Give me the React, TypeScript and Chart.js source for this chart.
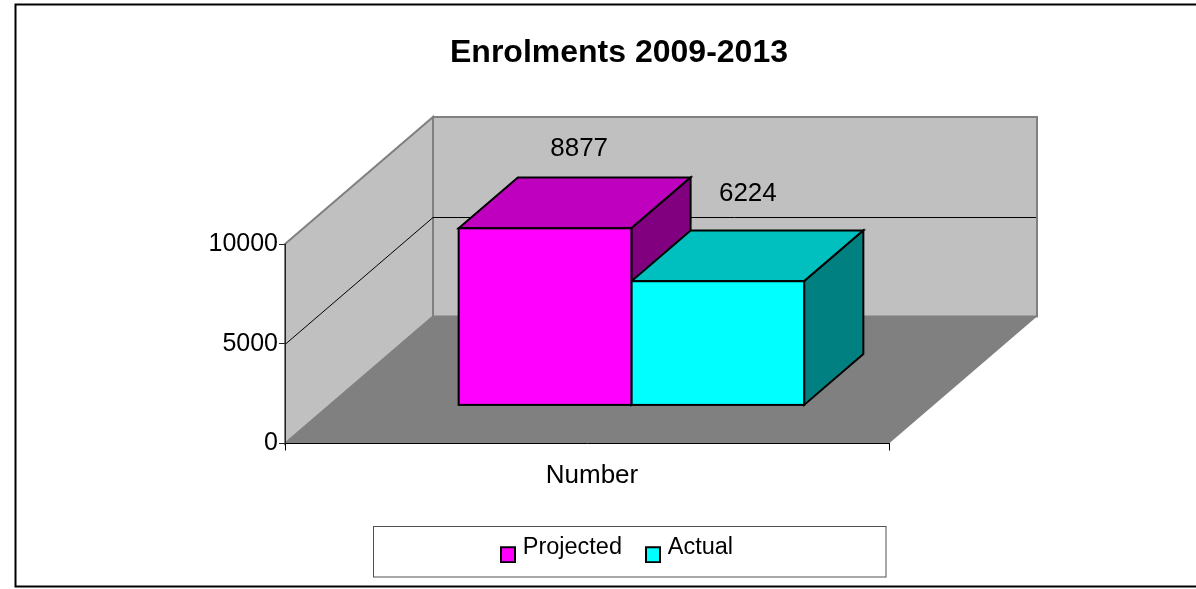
import React, { useEffect, useRef } from "react";
import { Chart, registerables } from "chart.js";

Chart.register(...registerables);

const titleText = "Enrolments 2009-2013";
const categories = ["Number"];
const projected = [8877];
const actual = [6224];
const seriesNames = ["Projected", "Actual"];
const yMax = 10000;
const yStep = 5000;

const FONT = "'Liberation Sans', Arial, sans-serif";
const WALL = "#C0C0C0";
const FLOOR = "#808080";
const EDGE = 2; // outline width of the boxes
const DEPTH = { dx: 148, dy: -127 };
const BAR_FRONT = 0.3; // share of the depth in front of the bars
const BAR_DEPTH = 0.4; // share of the depth the bars occupy

function poly(ctx: CanvasRenderingContext2D, pts: number[][], fill?: string, stroke?: string, lw = 1) {
  ctx.beginPath();
  pts.forEach(([x, y], i) => (i ? ctx.lineTo(x, y) : ctx.moveTo(x, y)));
  ctx.closePath();
  if (fill) {
    ctx.fillStyle = fill;
    ctx.fill();
  }
  if (stroke) {
    ctx.strokeStyle = stroke;
    ctx.lineWidth = lw;
    ctx.lineJoin = "miter";
    ctx.stroke();
  }
}

// Legend swatch sitting a little below the middle of its label
function swatch(color: string) {
  const c = document.createElement("canvas");
  c.width = 16;
  c.height = 32;
  const g = c.getContext("2d")!;
  g.fillStyle = color;
  g.fillRect(1, 16, 14, 15);
  g.strokeStyle = "#000";
  g.lineWidth = EDGE;
  g.strokeRect(1, 16, 14, 15);
  return c;
}

const box3d = {
  id: "box3d",
  beforeDraw(chart: any) {
    const { ctx, chartArea: a } = chart;
    const y = chart.scales.y;
    const { dx, dy } = DEPTH;
    const [l, r, t, b] = [a.left, a.right, y.getPixelForValue(yMax), y.getPixelForValue(0)];
    ctx.save();
    // outer frame, open on the right
    ctx.beginPath();
    ctx.moveTo(1200, 4.5);
    ctx.lineTo(15.5, 4.5);
    ctx.lineTo(15.5, 586.5);
    ctx.lineTo(1200, 586.5);
    ctx.strokeStyle = "#000";
    ctx.lineWidth = 2;
    ctx.stroke();
    // back wall, side wall, floor
    poly(ctx, [[l + dx, t + dy], [r + dx, t + dy], [r + dx, b + dy], [l + dx, b + dy]], WALL, "#808080", 2);
    poly(ctx, [[l, t], [l + dx, t + dy], [l + dx, b + dy], [l, b]], WALL, "#808080", 2);
    poly(ctx, [[l, b], [r, b], [r + dx, b + dy], [l + dx, b + dy]], FLOOR);
    // gridlines folded over both walls
    ctx.strokeStyle = "#000";
    ctx.lineWidth = 1;
    for (const tick of y.ticks) {
      if (tick.value === 0 || tick.value === yMax) continue;
      const py = Math.round(y.getPixelForValue(tick.value)) + 0.5;
      ctx.beginPath();
      ctx.moveTo(l, py);
      ctx.lineTo(l + dx, py + dy);
      ctx.lineTo(r + dx - 1, py + dy);
      ctx.stroke();
    }
    // legend frame
    ctx.strokeStyle = "#505050";
    ctx.lineWidth = 1;
    ctx.strokeRect(373.5, 526.5, 512.5, 50.5);
    ctx.restore();
  },
  afterLayout(chart: any) {
    // centre the title and the legend on their own lines, legend inside its frame
    const centre = (block: any, cx: number) => {
      const half = block.width / 2;
      block.left = cx - half;
      block.right = cx + half;
    };
    centre(chart.titleBlock, 619);
    centre(chart.legend, 619);
    chart.legend.top -= 20;
    chart.legend.bottom -= 20;
  },
  beforeDatasetsDraw(chart: any) {
    // top and side faces go back to front, left box first, so the right box overlaps it
    const { ctx } = chart;
    const fx = DEPTH.dx * BAR_FRONT;
    const fy = DEPTH.dy * BAR_FRONT;
    const bx = DEPTH.dx * BAR_DEPTH;
    const by = DEPTH.dy * BAR_DEPTH;
    ctx.save();
    ctx.translate(fx, fy);
    for (const meta of chart.getSortedVisibleDatasetMetas()) {
      const ds = chart.data.datasets[meta.index];
      for (const el of meta.data) {
        const L = el.x - el.width / 2;
        const R = el.x + el.width / 2;
        const T = el.y;
        const B = el.base;
        poly(ctx, [[L, T], [R, T], [R + bx, T + by], [L + bx, T + by]], ds.topColor, "#000", EDGE);
        poly(ctx, [[R, T], [R + bx, T + by], [R + bx, B + by], [R, B]], ds.sideColor, "#000", EDGE);
      }
    }
    ctx.restore();
  },
  beforeDatasetDraw(chart: any) {
    chart.ctx.save();
    chart.ctx.translate(DEPTH.dx * BAR_FRONT, DEPTH.dy * BAR_FRONT);
  },
  afterDatasetDraw(chart: any, args: any) {
    const { ctx } = chart;
    const ds = chart.data.datasets[args.index];
    for (const el of args.meta.data) {
      const L = el.x - el.width / 2;
      ctx.strokeStyle = "#000";
      ctx.lineWidth = EDGE;
      ctx.strokeRect(L, el.y, el.width, el.base - el.y);
    }
    ctx.restore();
    // value labels above the boxes
    ctx.save();
    ctx.font = `26px ${FONT}`;
    ctx.fillStyle = "#000";
    ctx.textAlign = "center";
    ctx.textBaseline = "middle";
    args.meta.data.forEach((el: any, i: number) => {
      ctx.fillText(String(ds.data[i]), el.x + ds.labelShift.x, el.y + ds.labelShift.y);
    });
    ctx.restore();
  },
};

export default function App() {
  const ref = useRef<HTMLCanvasElement>(null);
  useEffect(() => {
    const chart = new Chart(ref.current!, {
      type: "bar",
      plugins: [box3d],
      data: {
        labels: categories,
        datasets: [
          {
            label: seriesNames[0],
            data: projected,
            backgroundColor: "#FF00FF",
            topColor: "#BF00BF",
            sideColor: "#800080",
            labelShift: { x: 78.5, y: -117.5 },
            clip: false,
            borderWidth: 0,
          },
          {
            label: seriesNames[1],
            data: actual,
            backgroundColor: "#00FFFF",
            topColor: "#00BFBF",
            sideColor: "#008080",
            labelShift: { x: 74.5, y: -126 },
            clip: false,
            borderWidth: 0,
          },
        ] as any,
      },
      options: {
        responsive: false,
        animation: false,
        layout: { padding: { left: 0, right: 307, top: 0, bottom: 0 } },
        datasets: { bar: { categoryPercentage: 0.572, barPercentage: 1 } },
        scales: {
          x: {
            afterFit: (s: any) => { s.height = 84; },
            grid: { drawOnChartArea: false, tickLength: 7, color: "#000", lineWidth: 1 },
            border: { color: "#000", width: 1 },
            ticks: { color: "#000", font: { family: FONT, size: 26 }, padding: 10, labelOffset: 5 },
          },
          y: {
            min: 0,
            max: yMax,
            afterFit: (s: any) => { s.width = 285; },
            grid: { drawOnChartArea: false, tickLength: 6, color: "#222", lineWidth: 1 },
            border: { color: "#222", width: 1 },
            ticks: {
              stepSize: yStep,
              color: "#000",
              font: { family: FONT, size: 25 },
              padding: 1,
              callback: (v: any) => String(v),
            },
          },
        },
        plugins: {
          tooltip: { enabled: false },
          title: {
            display: true,
            text: titleText,
            color: "#000",
            font: { family: FONT, size: 32, weight: "bold" },
            padding: { top: 34, bottom: 171.6 },
          },
          legend: {
            position: "bottom",
            labels: {
              color: "#000",
              font: { family: FONT, size: 23.5 },
              usePointStyle: true,
              pointStyleWidth: 6,
              padding: 28,
              generateLabels: (c: any) =>
                c.data.datasets.map((d: any, i: number) => ({
                  text: d.label,
                  pointStyle: swatch(d.backgroundColor),
                  fontColor: "#000",
                  datasetIndex: i,
                })),
            },
          },
        },
      } as any,
    });
    return () => chart.destroy();
  }, []);
  return (
    <div style={{ position: "fixed", left: 0, top: 0, width: 1196, height: 589, background: "#fff" }}>
      <canvas ref={ref} width={1196} height={589} style={{ display: "block" }} />
    </div>
  );
}
